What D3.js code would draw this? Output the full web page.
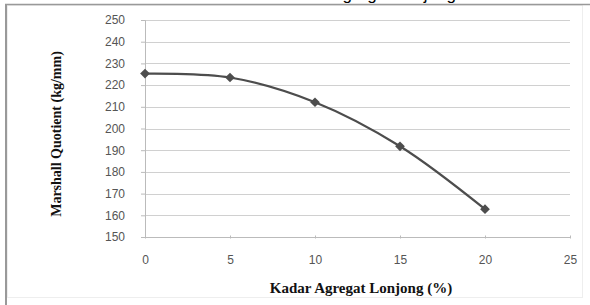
<!DOCTYPE html>
<html><head><meta charset="utf-8">
<script src="https://cdn.jsdelivr.net/npm/d3@7"></script>
<style>body{margin:0;background:#fff}svg{display:block}</style>
</head><body>
<script>
const xValues = [0, 5, 10, 15, 20];
const quotient = [225.3, 223.5, 212.1, 191.8, 162.8];
const xTicks = [0, 5, 10, 15, 20, 25];
const yTicks = [150, 160, 170, 180, 190, 200, 210, 220, 230, 240, 250];
const titleText = "Kadar Agregat Lonjong";
const xTitle = "Kadar Agregat Lonjong (%)";
const yTitle = "Marshall Quotient (kg/mm)";

const W = 590, H = 305;
const svg = d3.select("body").append("svg").attr("width", W).attr("height", H);
svg.append("rect").attr("width", W).attr("height", H).attr("fill", "#fff");

// title, cut off at the top edge as in the reference (only descenders visible)
svg.append("text").attr("x", 456).attr("y", -0.5).attr("text-anchor", "end")
  .attr("font-family", "Liberation Sans, Arial").attr("font-size", 17).attr("fill", "#000")
  .text(titleText);

// frame
svg.append("rect").attr("x", 7.5).attr("y", 5.5).attr("width", 575).attr("height", 292)
  .attr("fill", "none").attr("stroke", "#eee");
svg.append("line").attr("x1", 5).attr("x2", W).attr("y1", 4.5).attr("y2", 4.5).attr("stroke", "#999").attr("stroke-width", 1.5);
svg.append("line").attr("x1", 6).attr("x2", 6).attr("y1", 4).attr("y2", H).attr("stroke", "#999").attr("stroke-width", 2);

const x = d3.scaleLinear().domain([0, 25]).range([145, 570]);
const y = d3.scaleLinear().domain([150, 250]).range([237, 20]);

// gridlines
svg.append("g").selectAll("line").data(yTicks).join("line")
  .attr("x1", x(0)).attr("x2", x(25))
  .attr("y1", d => Math.round(y(d)) + 0.5).attr("y2", d => Math.round(y(d)) + 0.5)
  .attr("stroke", d => d === 150 ? "#bbb" : "#d0d0d0").attr("stroke-width", 1.2);

// y axis
const yAxis = svg.append("g").attr("transform", `translate(${x(0)},0)`)
  .call(d3.axisLeft(y).tickValues(yTicks).tickSize(4).tickPadding(16).tickFormat(d3.format("d")));
yAxis.select(".domain").attr("stroke", "#bbb");
yAxis.selectAll(".tick line").attr("stroke", "#bbb");
yAxis.selectAll("text").attr("font-family", "Liberation Sans, Arial").attr("font-size", 12).attr("fill", "#555");

// x axis
const xAxis = svg.append("g").attr("transform", `translate(0,${y(150)})`)
  .call(d3.axisBottom(x).tickValues(xTicks).tickSize(3).tickPadding(15));
xAxis.select(".domain").remove();
xAxis.selectAll(".tick line").attr("stroke", "#bbb").attr("transform", "translate(0,-1.5)");
xAxis.selectAll("text").attr("font-family", "Liberation Sans, Arial").attr("font-size", 12).attr("fill", "#555");

// line
const pts = xValues.map((v, i) => [v, quotient[i]]);
svg.append("path").datum(pts)
  .attr("d", d3.line().x(d => x(d[0])).y(d => y(d[1])).curve(d3.curveCatmullRom.alpha(0.5)))
  .attr("fill", "none").attr("stroke", "#4d4d4d").attr("stroke-width", 2.2);

svg.append("g").selectAll("path").data(pts).join("path")
  .attr("transform", d => `translate(${x(d[0])},${y(d[1])})`)
  .attr("d", d3.symbol(d3.symbolDiamond2, 60))
  .attr("fill", "#4d4d4d");

// titles
svg.append("text").attr("x", 361).attr("y", 293).attr("text-anchor", "middle")
  .attr("font-family", "Liberation Serif, Times New Roman").attr("font-weight", "bold").attr("font-size", 15)
  .attr("fill", "#111").text(xTitle);
svg.append("text").attr("transform", "translate(61,134) rotate(-90)").attr("text-anchor", "middle")
  .attr("font-family", "Liberation Serif, Times New Roman").attr("font-weight", "bold").attr("font-size", 14)
  .attr("fill", "#111").text(yTitle);
</script>
</body></html>
